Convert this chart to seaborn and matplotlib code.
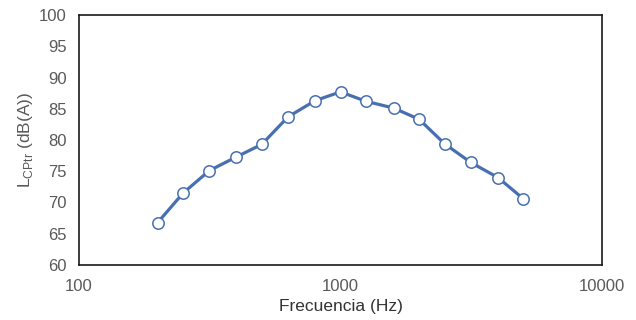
import matplotlib
matplotlib.use("Agg")
import matplotlib.pyplot as plt
import seaborn as sns
import pandas as pd
from matplotlib.ticker import FixedLocator, NullLocator

freq = [200, 250, 315, 400, 500, 630, 800, 1000, 1250, 1600, 2000, 2500, 3150, 4000, 5000]
level = [66.8, 71.5, 75.1, 77.3, 79.3, 83.7, 86.3, 87.7, 86.2, 85.1, 83.3, 79.4, 76.4, 74.0, 70.6]
xticks = [100, 1000, 10000]
yticks = [60, 65, 70, 75, 80, 85, 90, 95, 100]

sns.set_theme(style="white")
plt.rcParams['font.family'] = ['Liberation Sans', 'DejaVu Sans']

df = pd.DataFrame({"freq": freq, "level": level})
fig = plt.figure(figsize=(6.36, 3.2), dpi=100)
ax = fig.add_axes([79/636, 1-265/320, (602-79)/636, (265-15)/320])

color = "#4870B0"
sns.lineplot(data=df, x="freq", y="level", ax=ax, color=color, linewidth=2.3,
             marker="o", markersize=8.2, markerfacecolor="white",
             markeredgecolor=color, markeredgewidth=1.1)

ax.set_xscale("log")
ax.set_xlim(100, 10000)
ax.set_ylim(60, 100)
ax.xaxis.set_major_locator(FixedLocator(xticks))
ax.xaxis.set_minor_locator(NullLocator())
ax.set_xticklabels([str(t) for t in xticks])
ax.set_yticks(yticks)
ax.set_yticklabels([str(t) for t in yticks])
ax.tick_params(axis="both", length=0, labelsize=12, colors="#595959")
ax.tick_params(axis="x", pad=10)
ax.tick_params(axis="y", pad=9)

for s in ax.spines.values():
    s.set_color("#1a1a1a")
    s.set_linewidth(1.2)

ax.set_xlabel("Frecuencia (Hz)", fontsize=12.5, color="#333333", labelpad=4)
ax.set_ylabel(r"L$_{\mathregular{CPtr}}$ (dB(A))", fontsize=12.5, color="#595959", labelpad=3)

fig.savefig("out.png", dpi=100)
